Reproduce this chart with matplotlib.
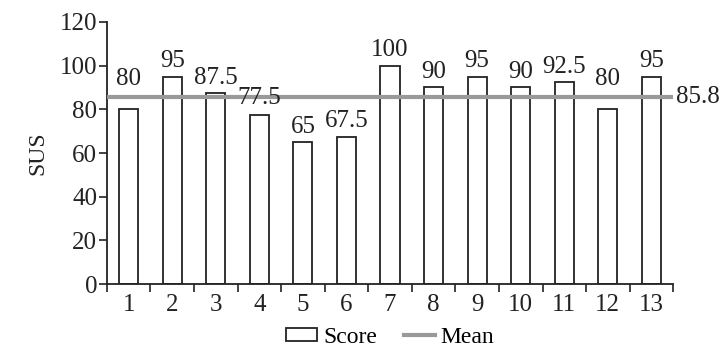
import matplotlib.pyplot as plt
import numpy as np
from matplotlib.patches import Patch
from matplotlib.lines import Line2D

plt.rcParams["font.family"] = ["Liberation Serif", "DejaVu Serif"]

participants = [str(i) for i in range(1, 14)]
scores = [80, 95, 87.5, 77.5, 65, 67.5, 100, 90, 95, 90, 92.5, 80, 95]
score_labels = ["80", "95", "87.5", "77.5", "65", "67.5", "100", "90", "95", "90", "92.5", "80", "95"]
mean_score = 85.8
yticks = [0, 20, 40, 60, 80, 100, 120]

# label lift in points (the two 80s are pushed above the mean line)
label_lift = [14, 3, 3, 4, 3, 3, 3, 3, 3, 3, 3, 14, 3]

fs = 18
ink = "#222222"

fig = plt.figure(figsize=(7.27, 3.53), dpi=100)
ax = fig.add_axes([0.147, 0.195, 0.779, 0.743])

x = np.arange(1, len(scores) + 1)
ax.bar(x, scores, width=0.44, color="white", edgecolor=ink, linewidth=1.3, zorder=2)
for xi, s, lab, lift in zip(x, scores, score_labels, label_lift):
    ax.annotate(lab, (xi, s), xytext=(0, lift), textcoords="offset points",
                ha="center", va="bottom", fontsize=fs, color=ink, zorder=4)

ax.axhline(mean_score, color="#999999", linewidth=3, zorder=3)
ax.annotate(f"{mean_score}", (1.0, mean_score), xycoords=("axes fraction", "data"),
            xytext=(2, 0), textcoords="offset points", ha="left", va="center",
            fontsize=fs, color=ink)

ax.set_xlim(0.5, len(scores) + 0.5)
ax.set_ylim(0, 120)
ax.set_yticks(yticks)
ax.set_xticks(np.arange(0.5, len(scores) + 1, 1))
ax.set_xticklabels([])
ax.set_xticks(x, minor=True)
ax.set_xticklabels(participants, minor=True)
ax.tick_params(axis="x", which="minor", length=0, pad=7, labelsize=fs, colors=ink)
ax.tick_params(axis="x", which="major", length=6, width=1.2, direction="out", color=ink)
ax.tick_params(axis="y", length=6, width=1.2, direction="out", labelsize=fs, colors=ink, pad=1)

for side in ["top", "right"]:
    ax.spines[side].set_visible(False)
for side in ["left", "bottom"]:
    ax.spines[side].set_linewidth(1.3)
    ax.spines[side].set_color(ink)

ax.set_ylabel("SUS", fontsize=fs - 1, color=ink, labelpad=8)

handles = [Patch(facecolor="white", edgecolor=ink, linewidth=1.3, label="Score"),
           Line2D([0], [0], color="#999999", linewidth=3, label="Mean")]
fig.legend(handles=handles, loc="center", bbox_to_anchor=(0.537, 0.045), ncol=2,
           frameon=False, fontsize=fs - 1, handlelength=1.3, handleheight=0.5,
           handletextpad=0.25, columnspacing=1.15)

fig.savefig("out.png", dpi=100)
